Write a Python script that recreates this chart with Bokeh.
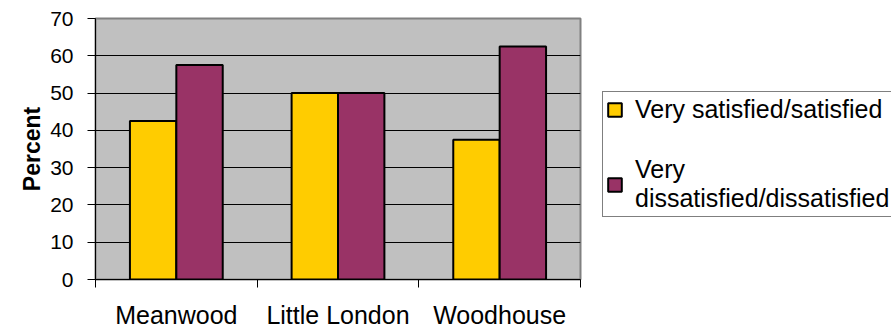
from bokeh.plotting import figure
from bokeh.models import (ColumnDataSource, Range1d, FixedTicker, Legend, LegendItem)
from bokeh.layouts import row
from bokeh.embed import file_html
from bokeh.resources import INLINE

categories = ["Meanwood", "Little London", "Woodhouse"]
satisfied = [42.5, 50, 37.5]
dissatisfied = [57.5, 50, 62.5]
y_ticks = [0, 10, 20, 30, 40, 50, 60, 70]
series_names = ["Very satisfied/satisfied", "Very\ndissatisfied/dissatisfied"]
colors = ["#FFCC00", "#993366"]

BAR_W = 0.287
idx = list(range(len(categories)))
centers = [i + 0.5 for i in idx]

src = ColumnDataSource(dict(
    xs=[c - BAR_W / 2 for c in centers],
    xd=[c + BAR_W / 2 for c in centers],
    sat=satisfied,
    dis=dissatisfied,
))

FONT = "Liberation Sans"

p = figure(width=602, height=331, output_backend="svg", toolbar_location=None,
           x_range=Range1d(0, len(categories)), y_range=Range1d(0, 70),
           min_border_left=95, min_border_right=22, min_border_top=18,
           min_border_bottom=50)
p.background_fill_color = "#C0C0C0"
p.border_fill_color = "white"
p.outline_line_color = "#808080"
p.outline_line_width = 2

p.vbar(x="xs", top="sat", bottom=0, width=BAR_W, source=src,
       fill_color=colors[0], line_color="black", line_width=2)
p.vbar(x="xd", top="dis", bottom=0, width=BAR_W, source=src,
       fill_color=colors[1], line_color="black", line_width=2)

# x axis: labels at centres, tick marks at category boundaries
xa = p.xaxis[0]
xa.ticker = FixedTicker(ticks=centers, minor_ticks=[0, 1, 2, 3])
xa.major_label_overrides = {c: name for c, name in zip(centers, categories)}
xa.major_tick_line_color = None
xa.major_tick_out = 0
xa.major_tick_in = 0
xa.minor_tick_line_color = "black"
xa.minor_tick_out = 8
xa.minor_tick_in = 0
xa.axis_line_color = "black"
xa.major_label_text_font = FONT
xa.major_label_text_font_size = "25px"
xa.major_label_text_color = "black"
xa.major_label_standoff = 13

ya = p.yaxis[0]
ya.ticker = FixedTicker(ticks=y_ticks)
ya.minor_tick_line_color = None
ya.major_tick_out = 8
ya.major_tick_in = 0
ya.major_tick_line_color = "black"
ya.axis_line_color = "black"
ya.major_label_text_font = FONT
ya.major_label_text_font_size = "21px"
ya.major_label_text_color = "black"
ya.major_label_standoff = 14
ya.axis_label = "Percent"
ya.axis_label_text_font = FONT
ya.axis_label_text_font_size = "23px"
ya.axis_label_text_font_style = "bold"
ya.axis_label_text_color = "black"
ya.axis_label_standoff = 2

p.xgrid.grid_line_color = None
p.ygrid.grid_line_color = "black"
p.ygrid.grid_line_width = 1
p.ygrid.ticker = FixedTicker(ticks=y_ticks[1:-1])

# legend panel (its swatch renderers hold no drawable points)
nan = float("nan")
lg = figure(width=289, height=331, output_backend="svg", toolbar_location=None,
            x_range=Range1d(0, 1), y_range=Range1d(0, 1),
            x_axis_type=None, y_axis_type=None,
            min_border_left=0, min_border_right=0, min_border_top=0,
            min_border_bottom=0)
lg.outline_line_color = None
lg.background_fill_color = "white"
lg.xgrid.visible = False
lg.ygrid.visible = False
lr1 = lg.vbar(x=[nan], top=[nan], bottom=[nan], width=0.1,
              fill_color=colors[0], line_color="black", line_width=2)
lr2 = lg.vbar(x=[nan], top=[nan], bottom=[nan], width=0.1,
              fill_color=colors[1], line_color="black", line_width=2)

legend = Legend(items=[LegendItem(label=series_names[0], renderers=[lr1]),
                       LegendItem(label=series_names[1], renderers=[lr2])],
                location=(0, 62))
legend.label_text_font = FONT
legend.label_text_font_size = "25px"
legend.label_text_color = "black"
legend.glyph_width = 17
legend.glyph_height = 17
legend.label_standoff = 12
legend.spacing = 31
legend.padding = 3
legend.margin = 0
legend.border_line_color = "black"
legend.border_line_width = 1
legend.background_fill_color = "white"
legend.background_fill_alpha = 1
lg.add_layout(legend, "center")

layout = row(p, lg, spacing=0)
open("out.html", "w").write(file_html(layout, INLINE))
